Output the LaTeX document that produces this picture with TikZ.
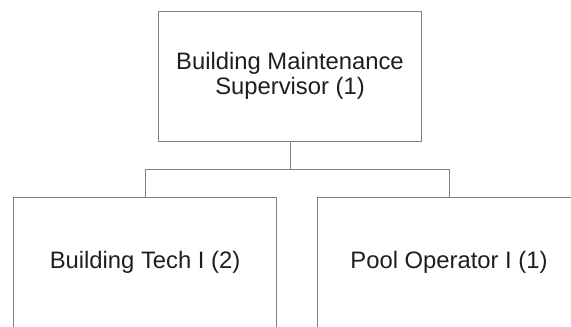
\documentclass[tikz,border=0pt]{standalone}
\usepackage{fontspec}
\setmainfont{Liberation Sans}
\definecolor{linegray}{RGB}{128,128,128}
\definecolor{txt}{RGB}{30,30,30}
\begin{document}
\begin{tikzpicture}[x=1pt,y=-1pt,
  box/.style={draw=linegray, line width=1pt, minimum width=263.4pt, minimum height=130pt,
    align=center, inner sep=0pt, text=txt, font=\fontsize{23.8}{24.5}\selectfont},
  conn/.style={draw=linegray, line width=1pt}]
\useasboundingbox (0,0) rectangle (571,327);
\clip (0,0) rectangle (571,327);
\node[box] (sup) at (290,76) {Building Maintenance\\Supervisor (1)};
\node[box] (tech) at (145,262.7) {Building Tech I (2)};
\node[box] (pool) at (449,262.7) {Pool Operator I (1)};
\coordinate (bus) at (290,169.3);
\draw[conn] (sup.south) -- (bus);
\draw[conn] (bus) -| (tech.north);
\draw[conn] (bus) -| (pool.north);
\end{tikzpicture}
\end{document}
